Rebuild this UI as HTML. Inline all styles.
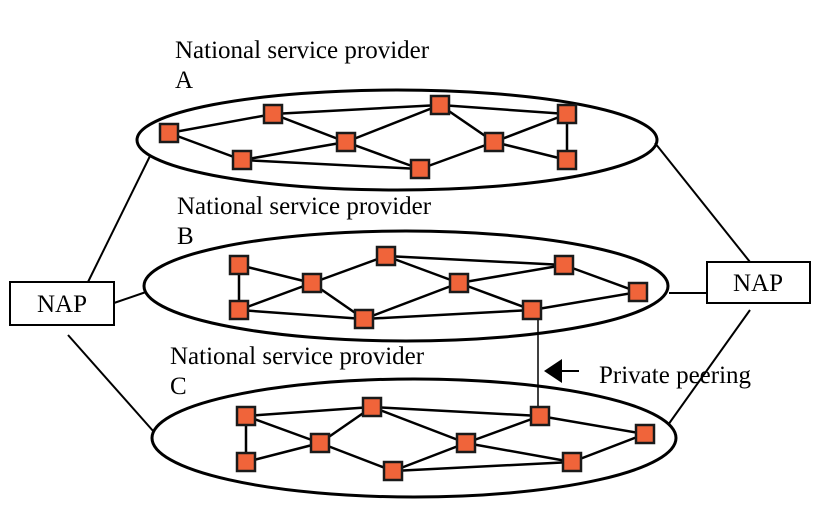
<!DOCTYPE html>
<html><head><meta charset="utf-8"><style>
html,body{margin:0;padding:0;background:#fff;}
svg{display:block;}
text{font-family:"Liberation Serif",serif;font-size:25px;fill:#000;}
.e{fill:none;stroke:#000;stroke-width:3;}
.l{stroke:#000;stroke-width:2.5;}
.t{stroke:#000;stroke-width:2;}
.n{fill:#f0643a;stroke:#1a1a1a;stroke-width:2.5;}
</style></head><body>
<svg width="823" height="508" viewBox="0 0 823 508" xmlns="http://www.w3.org/2000/svg">
<line class="t" x1="88" y1="282" x2="150" y2="156"/>
<line class="t" x1="114" y1="303" x2="146" y2="292"/>
<line class="t" x1="68" y1="335" x2="154" y2="432"/>
<line class="t" x1="655" y1="143" x2="750" y2="262"/>
<line class="t" x1="669" y1="293" x2="707" y2="293"/>
<line class="t" x1="750" y1="310" x2="668" y2="425"/>
<rect x="10" y="282" width="104" height="43" fill="#fff" stroke="#000" stroke-width="2"/>
<text x="62" y="312" text-anchor="middle">NAP</text>
<rect x="707" y="262" width="103" height="41" fill="#fff" stroke="#000" stroke-width="2"/>
<text x="758" y="291" text-anchor="middle">NAP</text>

<ellipse class="e" cx="397" cy="140" rx="260" ry="50"/>
<ellipse class="e" cx="406" cy="286" rx="262" ry="55"/>
<ellipse class="e" cx="414" cy="438" rx="262" ry="59"/>

<text x="175" y="58">National service provider</text>
<text x="175" y="88">A</text>
<text x="177" y="214">National service provider</text>
<text x="177" y="244">B</text>
<text x="170" y="364">National service provider</text>
<text x="170" y="394">C</text>

<line x1="538" y1="310" x2="538" y2="416" stroke="#000" stroke-width="1.5"/>
<polygon points="544,371 562,359 562,383" fill="#000"/>
<line x1="560" y1="371" x2="579" y2="371" stroke="#000" stroke-width="2"/>
<text x="599" y="383">Private peering</text>

<g class="l">
<line x1="169" y1="133" x2="273" y2="114"/>
<line x1="169" y1="133" x2="242" y2="160"/>
<line x1="273" y1="114" x2="440" y2="105"/>
<line x1="273" y1="114" x2="346" y2="142"/>
<line x1="242" y1="160" x2="346" y2="142"/>
<line x1="242" y1="160" x2="420" y2="169"/>
<line x1="346" y1="142" x2="440" y2="105"/>
<line x1="346" y1="142" x2="420" y2="169"/>
<line x1="440" y1="105" x2="567" y2="114"/>
<line x1="440" y1="105" x2="494" y2="142"/>
<line x1="420" y1="169" x2="494" y2="142"/>
<line x1="494" y1="142" x2="567" y2="114"/>
<line x1="567" y1="114" x2="567" y2="160"/>
<line x1="494" y1="142" x2="567" y2="160"/>
</g>
<g class="l">
<line x1="239" y1="265" x2="312" y2="283"/>
<line x1="239" y1="265" x2="239" y2="310"/>
<line x1="239" y1="310" x2="312" y2="283"/>
<line x1="312" y1="283" x2="386" y2="256"/>
<line x1="312" y1="283" x2="364" y2="319"/>
<line x1="239" y1="310" x2="364" y2="319"/>
<line x1="386" y1="256" x2="564" y2="265"/>
<line x1="386" y1="256" x2="459" y2="283"/>
<line x1="459" y1="283" x2="564" y2="265"/>
<line x1="459" y1="283" x2="364" y2="319"/>
<line x1="459" y1="283" x2="532" y2="310"/>
<line x1="364" y1="319" x2="532" y2="310"/>
<line x1="564" y1="265" x2="638" y2="292"/>
<line x1="532" y1="310" x2="638" y2="292"/>
</g>
<g class="l">
<line x1="246" y1="416" x2="372" y2="407"/>
<line x1="246" y1="416" x2="246" y2="462"/>
<line x1="246" y1="416" x2="320" y2="443"/>
<line x1="246" y1="462" x2="320" y2="443"/>
<line x1="320" y1="443" x2="372" y2="407"/>
<line x1="320" y1="443" x2="393" y2="471"/>
<line x1="372" y1="407" x2="540" y2="416"/>
<line x1="372" y1="407" x2="466" y2="443"/>
<line x1="466" y1="443" x2="540" y2="416"/>
<line x1="466" y1="443" x2="572" y2="462"/>
<line x1="393" y1="471" x2="466" y2="443"/>
<line x1="393" y1="471" x2="572" y2="462"/>
<line x1="540" y1="416" x2="645" y2="434"/>
<line x1="572" y1="462" x2="645" y2="434"/>
</g>
<g class="n">
<rect x="160" y="124" width="18" height="18"/>
<rect x="264" y="105" width="18" height="18"/>
<rect x="431" y="96" width="18" height="18"/>
<rect x="558" y="105" width="18" height="18"/>
<rect x="337" y="133" width="18" height="18"/>
<rect x="485" y="133" width="18" height="18"/>
<rect x="233" y="151" width="18" height="18"/>
<rect x="411" y="160" width="18" height="18"/>
<rect x="558" y="151" width="18" height="18"/>

<rect x="230" y="256" width="18" height="18"/>
<rect x="377" y="247" width="18" height="18"/>
<rect x="555" y="256" width="18" height="18"/>
<rect x="303" y="274" width="18" height="18"/>
<rect x="450" y="274" width="18" height="18"/>
<rect x="629" y="283" width="18" height="18"/>
<rect x="230" y="301" width="18" height="18"/>
<rect x="355" y="310" width="18" height="18"/>
<rect x="523" y="301" width="18" height="18"/>

<rect x="237" y="407" width="18" height="18"/>
<rect x="363" y="398" width="18" height="18"/>
<rect x="531" y="407" width="18" height="18"/>
<rect x="636" y="425" width="18" height="18"/>
<rect x="311" y="434" width="18" height="18"/>
<rect x="457" y="434" width="18" height="18"/>
<rect x="237" y="453" width="18" height="18"/>
<rect x="384" y="462" width="18" height="18"/>
<rect x="563" y="453" width="18" height="18"/>
</g>
</svg>
</body></html>
